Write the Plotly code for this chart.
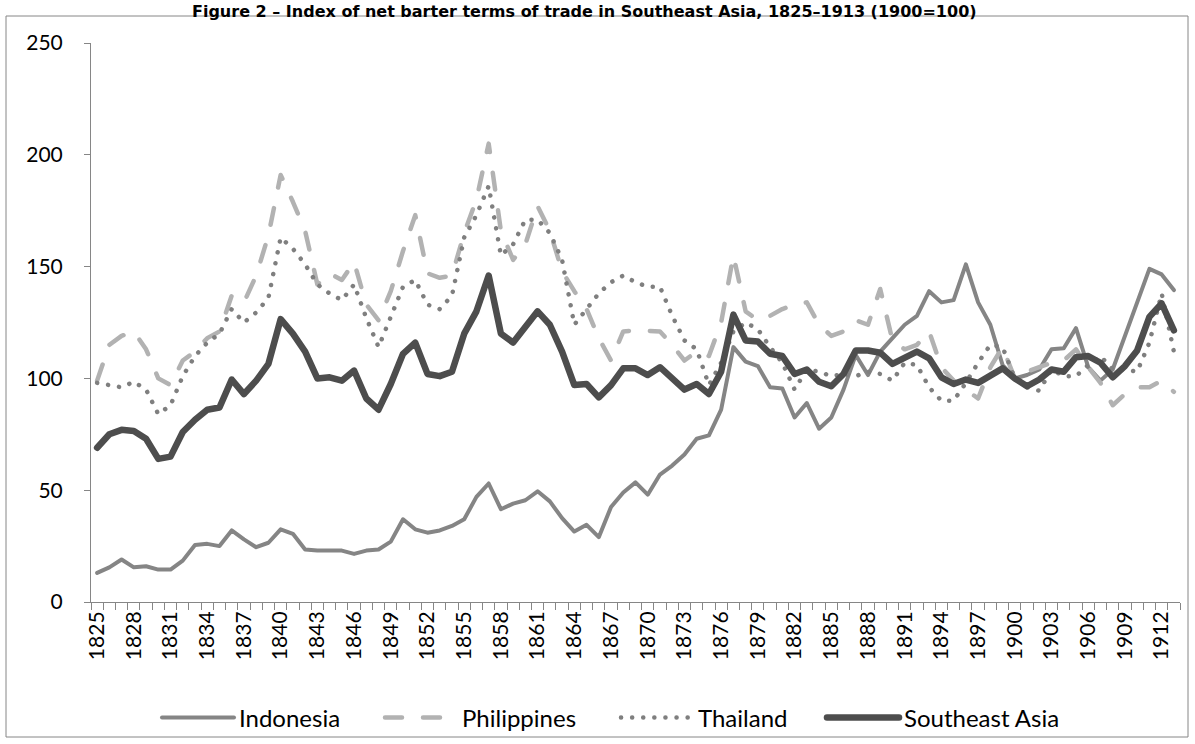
import plotly.graph_objects as go

years = list(range(1825, 1914))

indonesia = [13, 15.5, 19, 15.5, 16, 14.5, 14.5, 18.5, 25.5, 26,
             25, 32, 28, 24.5, 26.5, 32.5, 30.5, 23.5, 23, 23,
             23, 21.5, 23, 23.5, 27, 37, 32.5, 31, 32, 34,
             37, 47, 53, 41.5, 44, 45.5, 49.5, 45, 37.5, 31.5,
             34.5, 29, 42.5, 49, 53.5, 48, 57, 61, 66, 73,
             74.5, 86, 114, 107.5, 105.5, 96, 95.5, 82.5, 89, 77.5,
             82.5, 95, 110.5, 101.5, 112, 118, 124, 128, 139, 134,
             135, 151, 134, 124, 106, 100, 101.5, 104, 113, 113.5,
             122.5, 105, 99, 104, 119, 134, 149, 146.5, 139.5]

philippines = [99, 115, 119, 121, 113, 100, 97, 108, 112, 118,
               121, 137, 134, 146, 164, 191, 179, 166, 142, 147,
               144, 152, 133, 126, 139, 157, 173, 147, 145, 146,
               165, 180, 205, 166, 153, 160, 177, 166, 148, 139,
               131, 118, 108, 121, 121.5, 121.5, 121, 115, 108, 112,
               110, 125, 155, 130, 126, 128, 131, 133, 134, 124,
               119, 121, 126, 124, 140, 117, 113, 115, 121, 105,
               99, 95, 91, 105, 114, 100, 103, 105, 107, 108,
               113, 105, 98, 88, 93, 96, 96, 99, 94]

thailand = [98, 97, 96, 98.5, 95, 84, 88, 101, 110, 116,
            120, 131, 125, 129.5, 136, 163, 158, 151, 142, 138,
            135, 142, 127, 114, 127, 141, 144, 133, 131, 137,
            163, 173, 186, 155, 160, 171, 171, 165, 153, 124,
            131, 138, 143, 146, 143, 141, 141, 128, 117, 113,
            97, 107, 121, 125, 122, 114, 107, 95, 104, 103,
            101, 102, 101, 103, 102, 99, 107, 106, 96, 90,
            90, 98, 107, 115, 114, 100, 96, 94.5, 104, 101,
            101, 106, 110, 104, 104, 103, 116, 138, 112]

southeast_asia = [69, 75, 77, 76.5, 73, 64, 65, 76, 81.5, 86,
                  87, 99.5, 93, 99, 106.5, 126.5, 120, 112, 100, 100.5,
                  99, 103.5, 91, 86, 97.5, 111, 116, 102, 101, 103,
                  120, 130, 146, 120, 116, 123, 130, 124, 112, 97,
                  97.5, 91.5, 97, 104.5, 104.5, 101.5, 105, 100, 95, 97.5,
                  93, 103, 128.5, 117, 116.5, 111, 110, 102, 104, 98.5,
                  96.5, 102, 112.5, 112.5, 111.5, 106.5, 109.5, 112, 109, 100.5,
                  97.5, 99.5, 98, 101, 104.5, 100, 96.5, 99.5, 104, 103,
                  109.5, 110, 107, 100.5, 105.5, 112.5, 127.5, 133.5, 121.5]

tick_years = list(range(1825, 1913, 3))
tick_labels = [str(y) for y in tick_years]

title_text = "Figure 2 – Index of net barter terms of trade in Southeast Asia, 1825–1913 (1900=100)"

FONT = "Lato, 'Open Sans', sans-serif"
AXIS_COLOR = "#868686"

W, H = 1195, 744
L, R, T, B = 91, 15, 43, 142
pw = W - L - R
ph = H - T - B


def px_x(p):
    return (p - L) / pw


def px_y(p):
    return (H - B - p) / ph


fig = go.Figure()
fig.add_trace(go.Scatter(x=years, y=indonesia, mode="lines", name="Indonesia",
                         line=dict(color="#858585", width=4), legend="legend"))
fig.add_trace(go.Scatter(x=years, y=philippines, mode="lines", name="Philippines",
                         line=dict(color="#b2b2b2", width=4.5, dash="17px,21px"),
                         legend="legend2"))
fig.add_trace(go.Scatter(x=years, y=thailand, mode="lines", name="Thailand",
                         line=dict(color="#7f7f7f", width=4.5, dash="0.1px,11px"),
                         legend="legend3"))
fig.add_trace(go.Scatter(x=years, y=southeast_asia, mode="lines", name="Southeast Asia",
                         line=dict(color="#4d4d4d", width=6.5), legend="legend4"))

LEG_FONT = dict(family=FONT, size=24, color="black")


def leg(xpx):
    return dict(orientation="h", xref="container", yref="container",
                x=xpx / W, xanchor="left", y=(H - 718) / H,
                yanchor="middle", font=LEG_FONT, itemwidth=72,
                bgcolor="rgba(0,0,0,0)", borderwidth=0)


fig.update_layout(
    width=W, height=H,
    margin=dict(l=L, r=R, t=T, b=B, autoexpand=False),
    paper_bgcolor="white", plot_bgcolor="white",
    font=dict(family=FONT, size=21, color="black"),
    showlegend=True,
    legend=leg(157), legend2=leg(380), legend3=leg(616), legend4=leg(822),
    xaxis=dict(range=[1824.5, 1913.5], tickmode="array", tickvals=tick_years,
               ticktext=tick_labels, tickangle=-90, ticks="", showgrid=False,
               zeroline=False, showline=True, linecolor=AXIS_COLOR, linewidth=1,
               ticklabelstandoff=0, automargin=False,
               tickfont=dict(family=FONT, size=21, color="black"),
               minor=dict(tickmode="array",
                          tickvals=[y - 0.5 for y in years] + [years[-1] + 0.5],
                          ticks="outside", ticklen=7, tickcolor=AXIS_COLOR,
                          tickwidth=1, showgrid=False)),
    yaxis=dict(range=[0, 250], tickmode="linear", tick0=0, dtick=50,
               ticks="outside", ticklen=6, tickcolor=AXIS_COLOR, showgrid=False,
               zeroline=False, showline=True, linecolor=AXIS_COLOR, linewidth=1,
               ticklabelstandoff=17, automargin=False,
               tickfont=dict(family=FONT, size=21, color="black")),
    shapes=[dict(type="rect", xref="paper", yref="paper",
                 x0=px_x(6), x1=px_x(1188), y0=px_y(737), y1=px_y(16),
                 line=dict(color=AXIS_COLOR, width=1), fillcolor="rgba(0,0,0,0)",
                 layer="below")],
    annotations=[dict(text="<b>" + title_text + "</b>", xref="paper", yref="paper",
                      x=px_x(584), y=px_y(0), xanchor="center", yanchor="top",
                      showarrow=False,
                      font=dict(family="'DejaVu Sans', sans-serif", size=16, color="black"))],
)

post = """
document.documentElement.style.margin = '0';
document.body.style.margin = '0';
document.body.style.overflow = 'hidden';
var s = document.createElement('style');
s.innerHTML = '.js-line, .legendlines path { stroke-linecap: round !important; stroke-linejoin: round !important; }';
document.head.appendChild(s);
document.querySelectorAll('.legendlines path').forEach(function(p){ p.setAttribute('d', 'M5,0h72'); });
"""

fig.write_html("out.html", post_script=post, config={"displayModeBar": False})
